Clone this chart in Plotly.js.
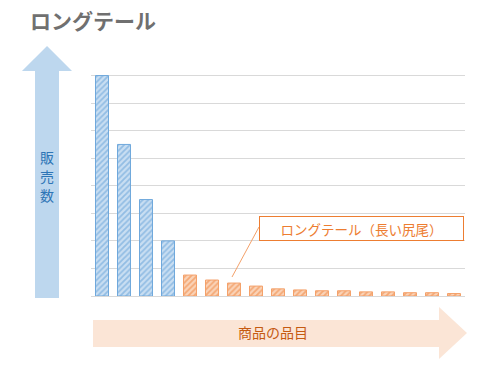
<!DOCTYPE html>
<html><head><meta charset="utf-8">
<script src="https://cdn.plot.ly/plotly-3.0.1.min.js"></script>
<style>html,body{margin:0;padding:0;background:#fff}#c{width:500px;height:370px}</style>
</head><body><div id="c"></div>
<script>
const products = ['1','2','3','4','5','6','7','8','9','10','11','12','13','14','15','16','17'];
const sales = [80, 55, 35, 20, 7.6, 5.8, 4.7, 3.6, 2.6, 2.2, 1.9, 1.9, 1.5, 1.5, 1.2, 1.2, 0.9];
const headCount = 4;
const titleText = 'ロングテール';
const yLabel = '販売数';
const xLabel = '商品の品目';
const tailLabel = 'ロングテール（長い尻尾）';

const W = 500, H = 370;
const L = 91, R = 465, T = 48, B = 296;
const px = x => (x - L) / (R - L);
const py = y => (B - y) / (B - T);
const path = pts => 'M' + pts.map(p => px(p[0]).toFixed(4) + ',' + py(p[1]).toFixed(4)).join(' L') + ' Z';

function barTrace(xs, ys, bg, fg, edge) {
  return {
    type: 'bar', x: xs, y: ys, hoverinfo: 'skip',
    marker: {
      color: bg,
      line: {color: edge, width: 1},
      pattern: {shape: '/', fgcolor: fg, size: 4, solidity: 0.45, fillmode: 'overlay'}
    }
  };
}

const headTrace = barTrace(products.slice(0, headCount), sales.slice(0, headCount), '#C9DEF2', '#5B9BD5', '#6FA8DC');
const tailTrace = barTrace(products.slice(headCount), sales.slice(headCount), '#FAD3B8', '#ED7D31', '#F4A16A');

const blueArrow = [[47,46],[22,71],[35,71],[35,298],[59,298],[59,71],[72,71]];
const orangeArrow = [[93,320],[439,320],[439,307],[467,333],[439,359],[439,347],[93,347]];

const yChars = yLabel.split('').map((ch, i) => ({
  xref: 'paper', yref: 'paper', x: px(47), y: py(157 + 19 * i), xanchor: 'center', yanchor: 'middle', showarrow: false,
  text: ch, font: {family: 'Noto Sans CJK JP', size: 14, color: '#2E75B6'}
}));

const layout = {
  width: W, height: H,
  margin: {l: L, r: W - R, t: T, b: H - B},
  paper_bgcolor: '#fff', plot_bgcolor: '#fff',
  showlegend: false,
  barmode: 'overlay',
  bargap: 0.41,
  xaxis: {type: 'category', categoryarray: products, categoryorder: 'array', showticklabels: false, showgrid: false, zeroline: false,
          showline: true, linecolor: '#d9d9d9', linewidth: 1, ticks: '', fixedrange: true},
  yaxis: {range: [0, 90], dtick: 10, showticklabels: false, gridcolor: '#d9d9d9', gridwidth: 1,
          zeroline: false, showline: false, ticks: '', fixedrange: true},
  shapes: [
    {type: 'path', xref: 'paper', yref: 'paper', path: path(blueArrow), fillcolor: '#BDD7EE', line: {width: 0}, layer: 'below'},
    {type: 'path', xref: 'paper', yref: 'paper', path: path(orangeArrow), fillcolor: '#FBE5D6', line: {width: 0}, layer: 'below'},
    {type: 'line', xref: 'paper', yref: 'paper', x0: px(259), y0: py(227), x1: px(232), y1: py(277), line: {color: '#F4A16A', width: 1}}
  ],
  annotations: [
    {xref: 'paper', yref: 'paper', x: px(28), y: py(20), xanchor: 'left', yanchor: 'middle', showarrow: false,
     text: '<b>' + titleText + '</b>', font: {family: 'Noto Sans CJK JP', size: 21, color: '#707070'}},
    ...yChars,
    {xref: 'paper', yref: 'paper', x: px(273), y: py(332), xanchor: 'center', yanchor: 'middle', showarrow: false,
     text: xLabel, font: {family: 'Noto Sans CJK JP', size: 14, color: '#C55A11'}},
    {xref: 'paper', yref: 'paper', x: px(361), y: py(228), xanchor: 'center', yanchor: 'middle', showarrow: false,
     text: tailLabel, width: 203, height: 23, bgcolor: '#fff', bordercolor: '#ED7D31', borderwidth: 1, borderpad: 0,
     font: {family: 'Noto Sans CJK JP', size: 13.5, color: '#ED7D31'}}
  ]
};

Plotly.newPlot('c', [headTrace, tailTrace], layout, {displayModeBar: false, staticPlot: true});
</script></body></html>
